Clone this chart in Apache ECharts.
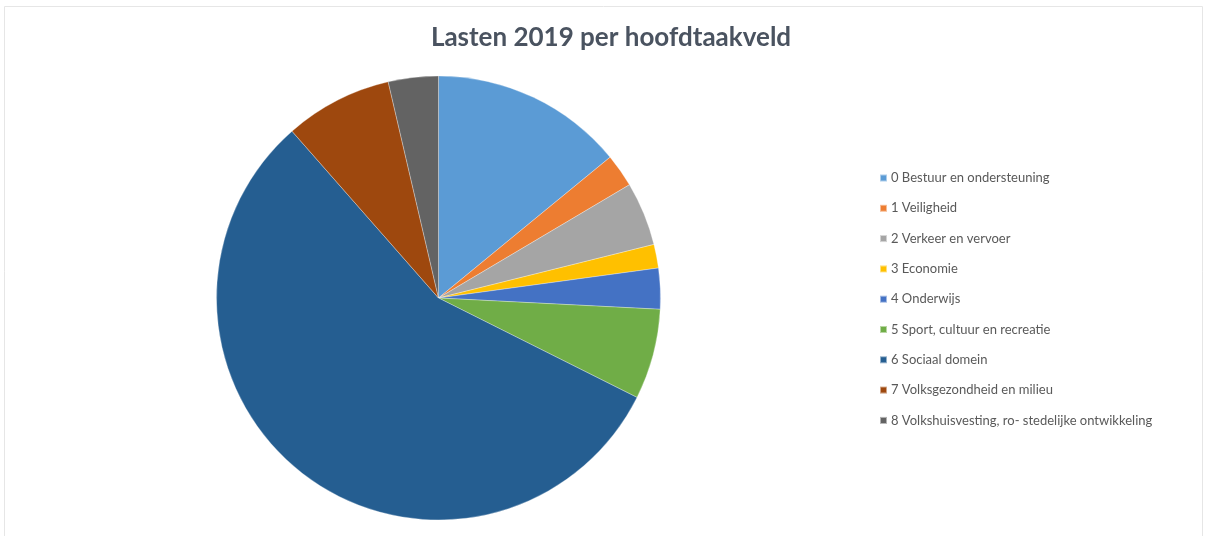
<!DOCTYPE html>
<html>
<head>
<meta charset="utf-8">
<script src="https://cdn.jsdelivr.net/npm/echarts@6/dist/echarts.min.js"></script>
<style>
html,body{margin:0;padding:0;background:#fff;}
#c{width:1206px;height:536px;}
</style>
</head>
<body>
<div id="c"></div>
<script>
const titleText = 'Lasten 2019 per hoofdtaakveld';
const categories = [
  '0 Bestuur en ondersteuning',
  '1 Veiligheid',
  '2 Verkeer en vervoer',
  '3 Economie',
  '4 Onderwijs',
  '5 Sport, cultuur en recreatie',
  '6 Sociaal domein',
  '7 Volksgezondheid en milieu',
  '8 Volkshuisvesting, ro- stedelijke ontwikkeling'
];
const values = [14.06, 2.42, 4.64, 1.72, 2.97, 6.58, 56.14, 7.83, 3.64];
const colors = ['#5B9BD5', '#ED7D31', '#A5A5A5', '#FFC000', '#4472C4', '#70AD47', '#255E91', '#9E480E', '#636363'];

const chart = echarts.init(document.getElementById('c'), null, {renderer: 'canvas'});
chart.setOption({
  backgroundColor: '#ffffff',
  animation: false,
  color: colors,
  title: {
    text: titleText,
    left: 611,
    textAlign: 'center',
    top: 25,
    padding: 0,
    textStyle: {fontFamily: 'Lato', fontWeight: 'bold', fontSize: 26, color: '#4a5360'}
  },
  graphic: [{
    type: 'rect',
    shape: {x: 4.5, y: 6.5, width: 1198, height: 535},
    style: {fill: 'none', stroke: '#e6e6e6', lineWidth: 1},
    silent: true
  }],
  legend: {
    orient: 'vertical',
    left: 879,
    top: 171,
    padding: 0,
    icon: 'rect',
    itemWidth: 7,
    itemHeight: 7,
    itemGap: 16.3,
    textStyle: {fontFamily: 'Lato', fontSize: 13, color: '#595959', lineHeight: 14, padding: [0, 0, 0, -1]},
    data: categories
  },
  series: [{
    type: 'pie',
    center: [438.5, 298],
    radius: 222,
    startAngle: 90,
    clockwise: true,
    label: {show: false},
    labelLine: {show: false},
    silent: true,
    itemStyle: {borderColor: 'rgba(255,255,255,0.5)', borderWidth: 0.6},
    data: categories.map((name, i) => ({name: name, value: values[i]}))
  }]
});
</script>
</body>
</html>
